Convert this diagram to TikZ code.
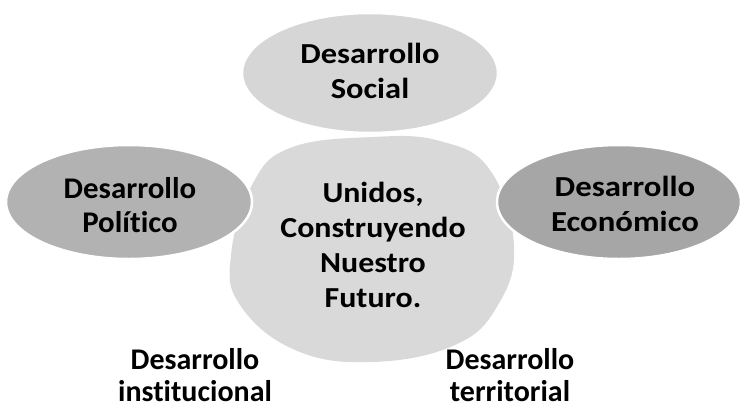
\documentclass[tikz,border=0pt]{standalone}
\usepackage{fontspec}
\setmainfont[Ligatures={NoCommon}]{Carlito}
\begin{document}
\begin{tikzpicture}[x=1pt,y=-1pt,
  lbl/.style={font=\fontsize{29}{35}\selectfont\bfseries, align=center, text=black, inner sep=0pt, anchor=base},
]
\useasboundingbox (0,0) rectangle (740,408);
% central blob
\fill[fill=gray!30] plot[smooth cycle, tension=0.7] coordinates {
  (372,137) (440,141) (490,170) (514,245) (498,305) (455,345)
  (372,362) (295,350) (240,305) (231,255) (252,185) (290,148)};
% ellipses
\fill[gray!32, draw=white, line width=2.5pt] (370,73) ellipse [x radius=128, y radius=60];
\fill[gray!60, draw=white, line width=2.5pt] (129,202) ellipse [x radius=123, y radius=57];
\fill[gray!70, draw=white, line width=2.5pt] (619,202) ellipse [x radius=122, y radius=57];
% texts (anchor = baseline of last line)
\node[lbl, xscale=1.12] (social) at (370,98) {Desarrollo\\Social};
\node[lbl, font=\fontsize{30}{34}\selectfont\bfseries, xscale=1.03] (politico) at (130,232) {Desarrollo\\Político};
\node[lbl, xscale=1.13] (economico) at (625,231) {Desarrollo\\Económico};
\node[lbl, xscale=1.1] (centro) at (373,307) {Unidos,\\Construyendo\\Nuestro\\Futuro.};
\node[lbl, font=\fontsize{30}{32}\selectfont\bfseries] (institucional) at (195,401) {Desarrollo\\institucional};
\node[lbl, font=\fontsize{30}{32}\selectfont\bfseries] (territorial) at (510,401) {Desarrollo\\territorial};
\end{tikzpicture}
\end{document}
